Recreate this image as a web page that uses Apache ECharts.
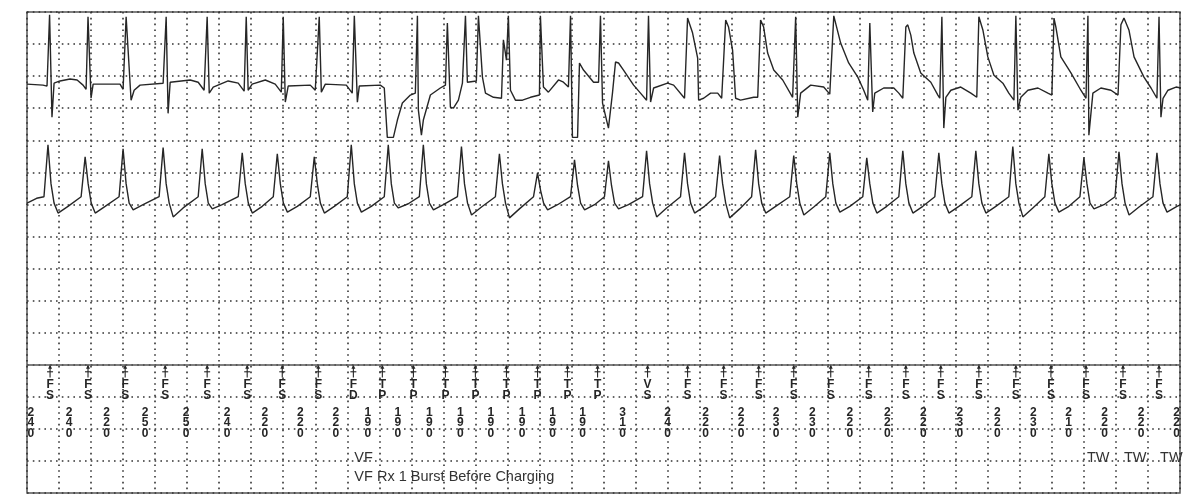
<!DOCTYPE html>
<html>
<head>
<meta charset="utf-8">
<title>EGM strip</title>
<script src="https://cdn.jsdelivr.net/npm/echarts@6/dist/echarts.min.js"></script>
<style>
  html, body { margin: 0; padding: 0; background: #fff; }
  #chart { width: 1200px; height: 496px; }
</style>
</head>
<body>
<div id="chart"></div>
<script>
// time in ms, amplitude in grid rows (1 row = 200 ms wide box height)
var topEgm = [
  [0,0.03],[100,0],[125,-0.03],[141,2.19],[156,-1.0],[169,0.06],[206,0.13],[269,0.19],[313,0.16],[350,0],[369,-0.13],
  [381,2.13],[400,-0.41],[413,0.03],[581,0.03],[600,-0.13],
  [619,2.13],[650,-0.47],[669,-0.16],[706,0],[850,0.06],
  [869,2.13],[881,-0.88],[894,0.09],[1019,0.16],[1069,0.09],[1106,-0.16],
  [1125,2.13],[1138,-0.25],[1163,-0.06],[1256,0.13],[1319,0.06],[1356,-0.19],
  [1369,2.13],[1381,-0.16],[1406,0.03],[1488,0.16],[1550,0.03],[1588,-0.22],
  [1600,2.13],[1613,-0.53],[1631,-0.03],[1769,0],[1800,-0.16],
  [1825,2.13],[1838,-0.22],[1863,0.03],[1994,0],[2031,-0.25],
  [2044,2.16],[2063,-0.53],[2075,-0.03],[2206,0],[2231,-0.09],
  [2250,-1.63],[2288,-1.63],[2313,-1.09],[2344,-0.56],[2394,-0.31],[2425,-0.25],
  [2438,2.16],[2444,-0.78],[2463,-1.56],[2475,-1.09],[2519,-0.31],[2581,-0.09],[2613,0],
  [2625,1.94],[2644,-0.69],[2663,-0.72],[2694,-0.47],[2719,0.06],
  [2738,2.16],[2750,0.09],[2806,0.13],
  [2819,2.16],[2844,0.25],[2863,-0.25],[2913,-0.38],[2963,-0.41],
  [2975,1.41],[2994,0.78],[3006,2.16],[3019,-0.16],[3050,-0.47],[3094,-0.47],[3144,-0.38],[3200,-0.31],
  [3206,2.16],[3225,-0.06],[3256,-0.22],[3319,0.16],[3350,0.09],[3381,-0.06],
  [3394,2.16],[3406,-1.63],[3438,-1.63],[3450,0.69],[3475,0.47],[3538,0.09],[3569,0.09],
  [3581,2.16],[3594,-0.56],[3619,-1.09],[3631,-1.34],[3656,-0.25],[3675,0.72],[3694,0.69],[3725,0.47],[3788,0],[3831,-0.25],[3869,-0.47],
  [3881,2.16],[3894,-0.53],[3913,-0.09],[4000,0.06],[4038,0],[4106,-0.41],
  [4125,2.09],[4156,1.63],[4188,0.84],[4194,-0.47],[4225,-0.41],[4269,-0.25],[4313,-0.25],[4338,-0.41],
  [4363,2.03],[4381,1.81],[4406,1.09],[4425,-0.41],[4456,-0.47],[4538,-0.38],[4563,-0.38],
  [4581,2.03],[4600,1.81],[4625,1.0],[4663,0.47],[4719,0.16],[4781,-0.38],
  [4800,2.13],[4813,-1.0],[4831,-0.25],[4894,0],[4975,-0.06],[5013,-0.28],
  [5038,2.16],[5081,1.31],[5131,0.69],[5188,0.25],[5225,-0.16],[5250,-0.47],
  [5263,1.94],[5281,-0.84],[5294,-0.25],[5350,-0.09],[5413,-0.09],[5444,-0.25],[5469,-0.41],
  [5488,1.81],[5500,1.88],[5519,1.56],[5538,1.0],[5581,0.38],[5644,0.09],[5688,-0.31],[5700,-0.41],
  [5713,2.13],[5725,-1.34],[5738,-0.38],[5769,-0.16],[5831,-0.06],[5894,-0.25],[5931,-0.38],
  [5944,2.13],[5969,1.72],[6000,0.88],[6038,0.31],[6094,0.06],[6131,-0.25],[6163,-0.47],
  [6175,2.16],[6188,-0.78],[6206,-0.38],[6250,-0.16],[6313,-0.09],[6375,-0.25],[6400,-0.31],
  [6413,2.09],[6425,1.81],[6456,0.88],[6519,0.38],[6581,-0.16],[6613,-0.41],
  [6625,2.16],[6631,-1.56],[6656,-0.25],[6706,-0.09],[6769,-0.16],[6813,-0.31],
  [6831,1.88],[6850,2.09],[6881,1.72],[6913,0.88],[6975,0.25],[7019,-0.09],[7056,-0.41],
  [7069,2.13],[7081,-1.0],[7094,-0.41],[7125,-0.16],[7175,-0.06],[7206,-0.09]
];

var bottomEgm = [
  [0,-0.1],[60,0.05],
  [106,0.1],[131,1.72],[150,0.5],[169,-0.1],[194,-0.41],[256,-0.2],
  [338,0.1],[363,1.34],[382,0.5],[401,-0.1],[426,-0.41],[488,-0.2],
  [575,0.1],[600,1.59],[619,0.5],[638,-0.1],[663,-0.31],[725,-0.15],
  [825,0.1],[850,1.63],[869,0.5],[888,-0.1],[913,-0.53],[975,-0.25],
  [1069,0.1],[1094,1.59],[1113,0.5],[1132,-0.1],[1157,-0.28],[1219,-0.15],
  [1319,0.1],[1344,1.47],[1363,0.5],[1382,-0.1],[1407,-0.41],[1469,-0.2],
  [1538,0.1],[1563,1.44],[1582,0.5],[1601,-0.1],[1626,-0.38],[1688,-0.2],
  [1769,0.1],[1794,1.34],[1813,0.5],[1832,-0.1],[1857,-0.41],[1919,-0.2],
  [2000,0.1],[2025,1.72],[2044,0.5],[2063,-0.1],[2088,-0.38],[2150,-0.2],
  [2231,0.1],[2256,1.72],[2275,0.5],[2294,-0.1],[2319,-0.25],[2381,-0.12],
  [2450,0.1],[2475,1.72],[2494,0.5],[2513,-0.1],[2538,-0.31],[2600,-0.15],
  [2688,0.1],[2713,1.66],[2732,0.5],[2751,-0.1],[2776,-0.47],[2838,-0.22],
  [2925,0.1],[2950,1.44],[2969,0.5],[2988,-0.1],[3013,-0.56],[3075,-0.28],
  [3163,0.1],[3188,0.84],[3207,0.3],[3226,-0.1],[3251,-0.31],[3313,-0.15],
  [3394,0.1],[3419,1.25],[3438,0.45],[3457,-0.1],[3482,-0.31],[3544,-0.15],
  [3606,0.1],[3631,1.22],[3650,0.45],[3669,-0.1],[3694,-0.28],[3756,-0.15],
  [3844,0.1],[3869,1.53],[3888,0.5],[3907,-0.1],[3932,-0.53],[3994,-0.25],
  [4081,0.1],[4106,1.47],[4125,0.5],[4144,-0.1],[4169,-0.41],[4231,-0.2],
  [4300,0.1],[4325,1.38],[4344,0.5],[4363,-0.1],[4388,-0.56],[4450,-0.28],
  [4525,0.1],[4550,1.56],[4569,0.5],[4588,-0.1],[4613,-0.41],[4675,-0.2],
  [4763,0.1],[4788,1.38],[4807,0.5],[4826,-0.1],[4851,-0.47],[4913,-0.22],
  [4988,0.1],[5013,1.47],[5032,0.5],[5051,-0.1],[5076,-0.38],[5138,-0.2],
  [5219,0.1],[5244,1.31],[5263,0.5],[5282,-0.1],[5307,-0.41],[5369,-0.2],
  [5444,0.1],[5469,1.53],[5488,0.5],[5507,-0.1],[5532,-0.41],[5594,-0.2],
  [5669,0.1],[5694,1.47],[5713,0.5],[5732,-0.1],[5757,-0.41],[5819,-0.2],
  [5900,0.1],[5925,1.53],[5944,0.5],[5963,-0.1],[5988,-0.41],[6050,-0.2],
  [6131,0.1],[6156,1.66],[6175,0.5],[6194,-0.1],[6219,-0.53],[6281,-0.25],
  [6356,0.1],[6381,1.44],[6400,0.5],[6419,-0.1],[6444,-0.38],[6506,-0.2],
  [6575,0.1],[6600,1.31],[6619,0.5],[6638,-0.1],[6663,-0.28],[6725,-0.15],
  [6794,0.1],[6819,1.5],[6838,0.5],[6857,-0.1],[6882,-0.47],[6944,-0.22],
  [7031,0.1],[7056,1.47],[7075,0.5],[7094,-0.1],[7119,-0.38],[7181,-0.2],
  [7206,-0.15]
];

// marker channel
var markerTimes = [144, 381, 613, 863, 1125, 1375, 1594, 1819, 2038, 2219, 2413, 2613, 2800, 2994, 3188, 3375,
  3563, 3875, 4125, 4350, 4569, 4788, 5019, 5256, 5488, 5706, 5944, 6175, 6394, 6613, 6844, 7069];
var markerCodes = ['FS','FS','FS','FS','FS','FS','FS','FS','FD','TP','TP','TP','TP','TP','TP','TP',
  'TP','VS','FS','FS','FS','FS','FS','FS','FS','FS','FS','FS','FS','FS','FS','FS'];
var intervalLabels = [240, 240, 220, 250, 250, 240, 220, 220, 220, 190, 190, 190, 190, 190, 190, 190, 190,
  310, 240, 220, 220, 230, 230, 220, 220, 220, 230, 220, 230, 210, 220, 220, 220];
var noteMarkers = [8, 8, 29, 30, 31];
var noteRows = [1, 2, 1, 1, 1];
var noteTexts = ['VF', 'VF Rx 1 Burst Before Charging', 'TW', 'TW', 'TW'];

var TOP_BASE = 12.72;
var BOTTOM_BASE = 9.14;
var INK = '#262626';

// interval numbers sit half-way between the two markers they measure
var intervalData = [];
for (let i = 0; i < intervalLabels.length; i++) {
  let t;
  if (i == 0) t = markerTimes[0] - intervalLabels[0] / 2;
  else if (i == markerTimes.length) t = markerTimes[i - 1] + intervalLabels[i] / 2;
  else t = (markerTimes[i - 1] + markerTimes[i]) / 2;
  intervalData.push([t, intervalLabels[i]]);
}

var chart = echarts.init(document.getElementById('chart'), null, { renderer: 'canvas' });

var dotted = { color: '#333', width: 1.6, type: [1.6, 4.2] };

chart.setOption({
  animation: false,
  grid: { left: 27, top: 12, width: 1153, height: 481, show: true, borderColor: '#555', borderWidth: 1.5 },
  xAxis: {
    type: 'value', min: 0, max: 7200, interval: 200,
    axisLine: { show: false }, axisTick: { show: false }, axisLabel: { show: false },
    splitLine: { show: true, lineStyle: dotted }
  },
  yAxis: {
    type: 'value', min: 0, max: 15, interval: 1,
    axisLine: { show: false }, axisTick: { show: false }, axisLabel: { show: false },
    splitLine: { show: true, lineStyle: dotted }
  },
  series: [
    {
      type: 'line',
      data: topEgm.map(function (p) { return [p[0], p[1] + TOP_BASE]; }),
      showSymbol: false,
      lineStyle: { color: INK, width: 1.4 },
      markLine: {
        silent: true, symbol: 'none', label: { show: false },
        lineStyle: { type: 'solid', color: '#555', width: 1.5 },
        data: [{ yAxis: 4 }]
      }
    },
    {
      type: 'line',
      data: bottomEgm.map(function (p) { return [p[0], p[1] + BOTTOM_BASE]; }),
      showSymbol: false,
      lineStyle: { color: INK, width: 1.4 }
    },
    {
      // marker ticks and two-letter codes
      type: 'custom',
      data: markerTimes.map(function (t, i) { return [t, i]; }),
      renderItem: function (params, api) {
        let t = api.value(0);
        let code = markerCodes[api.value(1)];
        let top = api.coord([t, 4]);
        let bot = api.coord([t, 3.6]);
        let bar = api.coord([t, 3.78]);
        let txt = api.coord([t, 3.2]);
        return {
          type: 'group',
          children: [
            { type: 'line', shape: { x1: top[0], y1: top[1], x2: bot[0], y2: bot[1] }, style: { stroke: INK, lineWidth: 1.1 } },
            { type: 'line', shape: { x1: bar[0] - 3, y1: bar[1], x2: bar[0] + 3, y2: bar[1] }, style: { stroke: INK, lineWidth: 1.1 } },
            { type: 'polygon', shape: { points: [[top[0], top[1]], [top[0] - 2, top[1] + 4], [top[0] + 2, top[1] + 4]] }, style: { fill: INK } },
            { type: 'text', x: txt[0], y: txt[1], style: {
              text: code.charAt(0) + '\n' + code.charAt(1), fill: INK,
              fontFamily: 'Liberation Sans', fontSize: 12, fontWeight: 'bold', lineHeight: 11,
              align: 'center', verticalAlign: 'middle' } }
          ]
        };
      }
    },
    {
      // interval values written as stacked digits
      type: 'custom',
      data: intervalData,
      renderItem: function (params, api) {
        let p = api.coord([api.value(0), 2.18]);
        return { type: 'text', x: p[0], y: p[1], style: {
          text: String(api.value(1)).split('').join('\n'), fill: INK,
          fontFamily: 'Liberation Sans', fontSize: 12, fontWeight: 'bold', lineHeight: 10.5,
          align: 'center', verticalAlign: 'middle' } };
      }
    },
    {
      // episode annotations
      type: 'custom',
      data: noteMarkers.map(function (m, i) { return [markerTimes[m], i]; }),
      renderItem: function (params, api) {
        let i = api.value(1);
        let p = api.coord([api.value(0), noteRows[i] == 1 ? 1.1 : 0.5]);
        return { type: 'text', x: p[0] + 1, y: p[1], style: {
          text: noteTexts[i], fill: '#333',
          fontFamily: 'Liberation Sans', fontSize: 14.5,
          align: 'left', verticalAlign: 'middle' } };
      }
    }
  ]
});
</script>
</body>
</html>
